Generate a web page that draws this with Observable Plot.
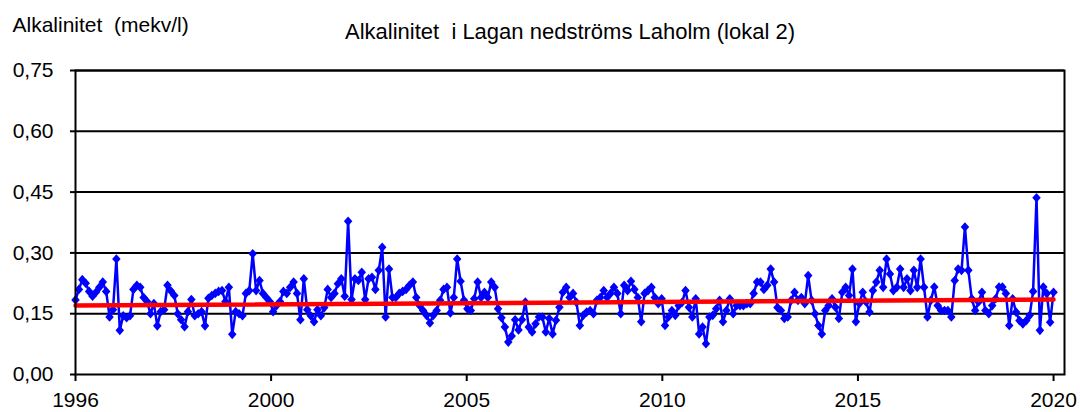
<!DOCTYPE html>
<html><head><meta charset="utf-8">
<script src="https://cdn.jsdelivr.net/npm/d3@7"></script>
<script src="https://cdn.jsdelivr.net/npm/@observablehq/plot@0.6"></script>
<style>
body{margin:0;background:#fff}
#chart svg{font-family:"Liberation Sans",Arial,sans-serif;white-space:pre}
</style>
</head><body><div id="chart"></div>
<script>
// Monthly samples, Jan 1996 .. Dec 2019
const startYear = 1996;
const alkalinity = [
  0.184,0.21,0.234,0.225,0.205,0.193,0.203,0.215,0.228,0.205,0.142,0.16,
  0.285,0.109,0.145,0.14,0.145,0.21,0.22,0.215,0.19,0.18,0.15,0.175,
  0.12,0.155,0.16,0.22,0.206,0.195,0.15,0.135,0.118,0.155,0.185,0.145,
  0.15,0.155,0.12,0.188,0.195,0.2,0.205,0.207,0.18,0.215,0.099,0.155,
  0.15,0.145,0.2,0.207,0.298,0.207,0.232,0.20,0.19,0.18,0.155,0.17,
  0.18,0.205,0.20,0.215,0.228,0.20,0.135,0.236,0.16,0.145,0.13,0.16,
  0.145,0.165,0.21,0.19,0.2,0.224,0.236,0.193,0.378,0.185,0.236,0.232,
  0.252,0.185,0.236,0.24,0.21,0.257,0.314,0.142,0.26,0.19,0.19,0.2,
  0.205,0.21,0.22,0.228,0.19,0.17,0.158,0.146,0.127,0.146,0.158,0.183,
  0.21,0.215,0.152,0.19,0.285,0.23,0.183,0.162,0.158,0.187,0.228,0.19,
  0.203,0.19,0.228,0.215,0.162,0.14,0.117,0.08,0.095,0.135,0.11,0.135,
  0.179,0.117,0.105,0.125,0.142,0.142,0.105,0.138,0.10,0.134,0.166,0.203,
  0.215,0.19,0.2,0.178,0.121,0.146,0.154,0.158,0.15,0.183,0.19,0.207,
  0.19,0.2,0.215,0.2,0.15,0.22,0.207,0.23,0.21,0.19,0.13,0.2,
  0.207,0.215,0.19,0.175,0.187,0.121,0.142,0.158,0.146,0.17,0.178,0.207,
  0.166,0.142,0.187,0.10,0.117,0.076,0.142,0.146,0.162,0.183,0.13,0.158,
  0.187,0.15,0.17,0.17,0.17,0.175,0.175,0.2,0.228,0.228,0.21,0.22,
  0.26,0.228,0.165,0.158,0.138,0.142,0.183,0.203,0.183,0.19,0.175,0.244,
  0.183,0.15,0.121,0.10,0.158,0.17,0.187,0.166,0.138,0.203,0.215,0.195,
  0.26,0.13,0.175,0.203,0.179,0.154,0.207,0.228,0.257,0.215,0.285,0.248,
  0.207,0.215,0.26,0.215,0.236,0.207,0.257,0.215,0.285,0.215,0.142,0.183,
  0.216,0.17,0.158,0.158,0.158,0.142,0.232,0.26,0.257,0.364,0.257,0.187,
  0.158,0.179,0.203,0.158,0.15,0.17,0.187,0.216,0.216,0.2,0.121,0.187,
  0.154,0.133,0.125,0.133,0.146,0.205,0.436,0.109,0.216,0.2,0.129,0.203
];
// Linear trend line: value at first and last sample
const trendValues = [0.170, 0.185];
const yTicks = [0, 0.15, 0.30, 0.45, 0.60, 0.75];
const xTickLabels = ["1996", "2000", "2005", "2010", "2015", "2020"];
const titleText = "Alkalinitet  i Lagan nedströms Laholm (lokal 2)";
const yLabelText = "Alkalinitet  (mekv/l)";

const data = alkalinity.map((v, i) => ({t: startYear + i / 12, v}));
const tFirst = data[0].t, tLast = data[data.length - 1].t;
const trend = [{t: tFirst, v: trendValues[0]}, {t: tLast, v: trendValues[1]}];
const nT = xTickLabels.length - 1;
const xTicks = xTickLabels.map((_, k) => tFirst + k * (tLast - tFirst) / nT);
const xFmt = d => xTickLabels[Math.round((d - tFirst) / (tLast - tFirst) * nT)];
const yFmt = d => d.toFixed(2).replace(".", ",");

const excelDiamond = {
  draw(ctx, size) {
    const r = Math.sqrt(size / Math.PI);
    const w = 1.15 * r, h = 1.3 * r;
    ctx.moveTo(0, -h); ctx.lineTo(w, 0); ctx.lineTo(0, h); ctx.lineTo(-w, 0); ctx.closePath();
  }
};

const chart = Plot.plot({
  width: 1080, height: 412,
  marginTop: 70, marginLeft: 75, marginRight: 16, marginBottom: 38,
  style: {fontFamily: "Liberation Sans, Arial, sans-serif", fontSize: "21px", color: "black", background: "white"},
  x: {domain: [tFirst, tFirst + (tLast - tFirst) * 1.0112]},
  y: {domain: [0, 0.75]},
  marks: [
    Plot.ruleY(yTicks.slice(1), {stroke: "black", strokeWidth: 2}),
    Plot.line(data, {x: "t", y: "v", stroke: "#0000ff", strokeWidth: 2.5}),
    Plot.dot(data, {x: "t", y: "v", symbol: excelDiamond, r: 3.7, fill: "#0000ff", stroke: "none"}),
    Plot.line(trend, {x: "t", y: "v", stroke: "#ff0000", strokeWidth: 4.5}),
    Plot.frame({stroke: "black", strokeWidth: 2}),
    Plot.axisY({ticks: yTicks, tickFormat: yFmt, tickSize: 5, tickPadding: 17, strokeWidth: 2, label: null, fontSize: 21}),
    Plot.axisX({ticks: xTicks, tickFormat: xFmt, tickSize: 7, tickPadding: 11, strokeWidth: 2, label: null, fontSize: 21}),
    Plot.text([titleText], {text: d => d, frameAnchor: "top", lineAnchor: "bottom", dy: -32, fontSize: 22, fill: "black"}),
    Plot.text([yLabelText], {text: d => d, frameAnchor: "top-left", textAnchor: "start", lineAnchor: "bottom", dx: -63, dy: -39, fontSize: 21, fill: "black"})
  ]
});
document.getElementById("chart").appendChild(chart);
</script>
</body></html>
